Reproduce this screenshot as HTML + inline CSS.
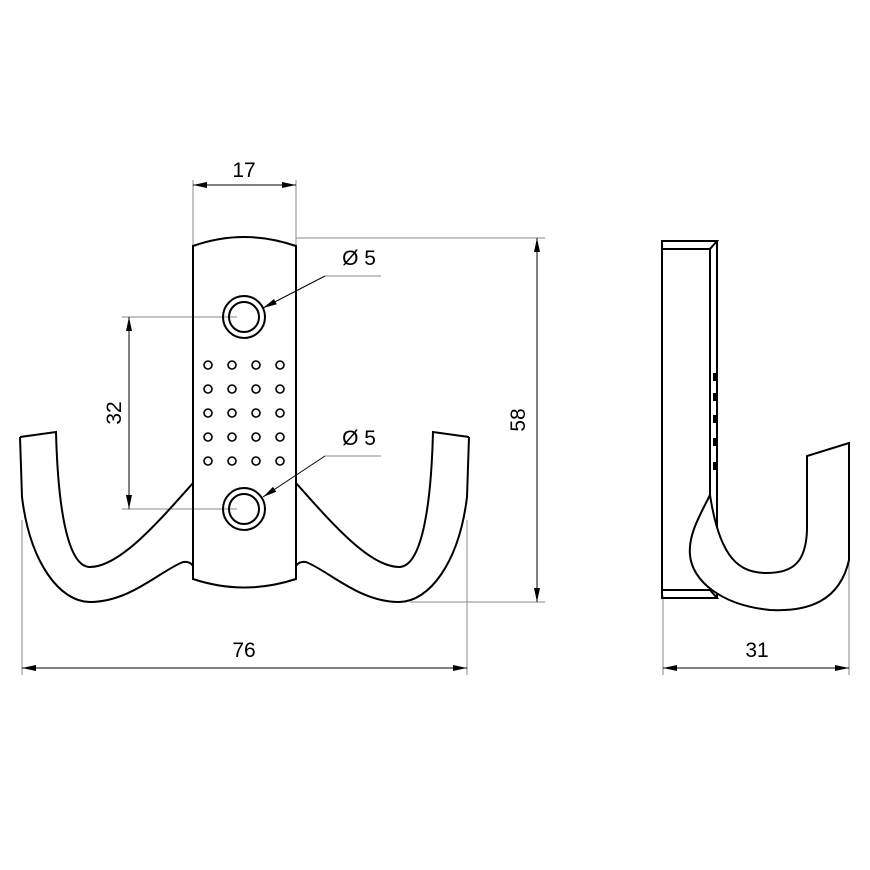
<!DOCTYPE html>
<html><head><meta charset="utf-8"><style>
html,body{margin:0;padding:0;background:#fff;}
svg{display:block;}
text{font-family:"Liberation Sans",sans-serif;font-size:21px;fill:#000;}
</style></head><body>
<svg width="870" height="870" viewBox="0 0 870 870" xmlns="http://www.w3.org/2000/svg">
<defs>
<marker id="a" viewBox="0 0 14 6" refX="14" refY="3" markerWidth="14" markerHeight="6" orient="auto-start-reverse" markerUnits="userSpaceOnUse"><path d="M0,0 L14,3 L0,6 Z" fill="#000"/></marker>
</defs>
<g fill="none" stroke="#888" stroke-width="1">
<line x1="193" y1="180" x2="193" y2="246"/><line x1="296" y1="180" x2="296" y2="246"/>
<line x1="296" y1="238" x2="545" y2="238"/><line x1="410" y1="602" x2="545" y2="602"/>
<line x1="122" y1="317" x2="237" y2="317"/><line x1="122" y1="509" x2="237" y2="509"/>
<line x1="22" y1="520" x2="22" y2="675"/><line x1="467" y1="520" x2="467" y2="675"/>
<line x1="663" y1="595" x2="663" y2="675"/><line x1="849" y1="560" x2="849" y2="675"/>
<line x1="381" y1="276" x2="325" y2="276"/><line x1="381" y1="456" x2="325" y2="456"/>
</g>
<g stroke="#000" stroke-width="1" fill="none">
<line x1="193" y1="185" x2="296" y2="185" marker-start="url(#a)" marker-end="url(#a)"/>
<line x1="537" y1="238" x2="537" y2="602" marker-start="url(#a)" marker-end="url(#a)"/>
<line x1="129" y1="317" x2="129" y2="509" marker-start="url(#a)" marker-end="url(#a)"/>
<line x1="22" y1="668" x2="467" y2="668" marker-start="url(#a)" marker-end="url(#a)"/>
<line x1="663" y1="668" x2="849" y2="668" marker-start="url(#a)" marker-end="url(#a)"/>
<line x1="325" y1="276" x2="263" y2="308" marker-end="url(#a)"/>
<line x1="325" y1="456" x2="263" y2="497" marker-end="url(#a)"/>
</g>
<g stroke="#000" stroke-width="2" fill="none">
<path d="M193,246 Q244,228 296,246 L296,579 Q244,596 193,579 Z"/>
<path d="M20,437 L56,432 C58,510 68,567 90,567 C120,567 160,520 193,483"/>
<path d="M20,437 L22,497 C30,563 60,602 90,602 C130,602 160,571 183,562 Q190,561 193,566"/>
<path d="M469,437 L433,432 C431,510 421,567 399,567 C369,567 329,520 296,483"/>
<path d="M469,437 L467,497 C459,563 429,602 399,602 C359,602 329,571 306,562 Q299,561 296,566"/>
<circle cx="244" cy="317" r="21"/><circle cx="244" cy="317" r="15"/>
<circle cx="244" cy="509" r="21"/><circle cx="244" cy="509" r="15"/>
</g>
<g stroke="#000" stroke-width="1.6" fill="none">
<circle cx="208" cy="365" r="4"/><circle cx="232" cy="365" r="4"/><circle cx="256" cy="365" r="4"/><circle cx="280" cy="365" r="4"/>
<circle cx="208" cy="389" r="4"/><circle cx="232" cy="389" r="4"/><circle cx="256" cy="389" r="4"/><circle cx="280" cy="389" r="4"/>
<circle cx="208" cy="413" r="4"/><circle cx="232" cy="413" r="4"/><circle cx="256" cy="413" r="4"/><circle cx="280" cy="413" r="4"/>
<circle cx="208" cy="437" r="4"/><circle cx="232" cy="437" r="4"/><circle cx="256" cy="437" r="4"/><circle cx="280" cy="437" r="4"/>
<circle cx="208" cy="461" r="4"/><circle cx="232" cy="461" r="4"/><circle cx="256" cy="461" r="4"/><circle cx="280" cy="461" r="4"/>
</g>
<g stroke="#000" stroke-width="2" fill="none">
<rect x="662" y="249" width="48" height="341"/>
<path d="M662,249 L662,241 L717,241 L710,249"/>
<line x1="717" y1="241" x2="717" y2="598"/>
<path d="M662,590 L662,598 L717,598 L710,590"/>
<path d="M710,495 C700,515 688,535 690,555 C692,580 720,605 770,610 C810,612 840,600 849,560 L849,443 L807,456 L807,530 C806,560 795,573 767,573 C740,573 720,560 710,495 Z" fill="#fff"/>
</g>
<g fill="#000">
<rect x="713" y="373" width="4" height="8"/><rect x="713" y="393" width="4" height="8"/><rect x="713" y="415" width="4" height="8"/><rect x="713" y="438" width="4" height="8"/><rect x="713" y="462" width="4" height="8"/>
</g>
<text x="244" y="177" text-anchor="middle">17</text>
<text x="244" y="657" text-anchor="middle">76</text>
<text x="757" y="657" text-anchor="middle">31</text>
<text x="359" y="265" text-anchor="middle">Ø 5</text>
<text x="359" y="445" text-anchor="middle">Ø 5</text>
<text transform="translate(525,420) rotate(-90)" text-anchor="middle">58</text>
<text transform="translate(121,413) rotate(-90)" text-anchor="middle">32</text>
</svg>
</body></html>
